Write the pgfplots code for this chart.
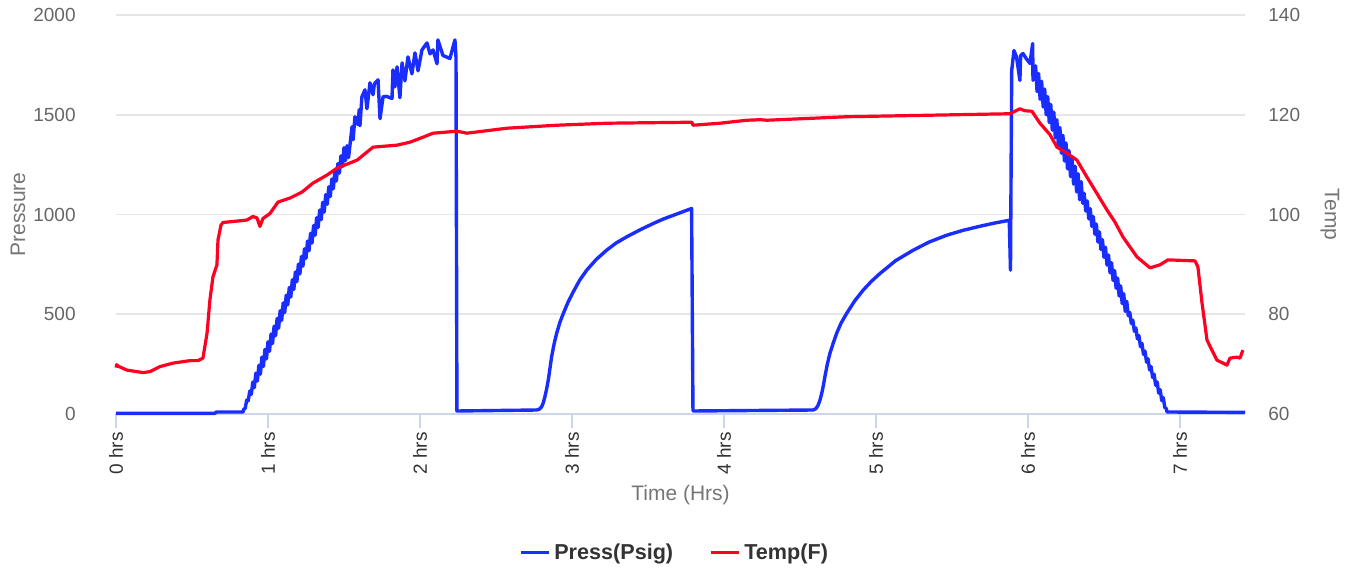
\documentclass[border=0pt]{standalone}
\usepackage{pgfplots}
\pgfplotsset{compat=1.18}
\usepackage{fontspec}
\setmainfont{Liberation Sans}
\definecolor{pblue}{RGB}{25,45,255}
\definecolor{tred}{RGB}{255,0,34}
\definecolor{gridc}{RGB}{230,230,230}
\definecolor{axc}{RGB}{204,214,235}
\definecolor{lblc}{RGB}{102,102,102}
\definecolor{ttlc}{RGB}{117,117,117}
\definecolor{darkc}{RGB}{51,51,51}

\pgfplotstableread{
t P
0 3
0.65 3
0.66 10
0.836 10
0.84 24
0.85 28
0.86 70
0.87 66
0.88 115
0.89 98
0.90 160
0.91 132
0.92 205
0.93 165
0.94 244
0.95 200
0.96 285
0.97 238
0.98 324
0.99 276
1.00 362
1.01 314
1.02 401
1.03 353
1.04 440
1.05 392
1.06 479
1.07 430
1.08 518
1.09 469
1.10 557
1.11 508
1.12 596
1.13 547
1.14 634
1.15 586
1.16 673
1.17 624
1.18 712
1.19 663
1.20 751
1.21 702
1.22 790
1.23 741
1.24 828
1.25 780
1.26 867
1.27 818
1.28 906
1.29 857
1.30 945
1.31 896
1.32 984
1.33 935
1.34 1022
1.35 974
1.36 1061
1.37 1012
1.38 1100
1.39 1051
1.40 1139
1.41 1090
1.42 1178
1.43 1129
1.44 1217
1.45 1168
1.46 1255
1.47 1207
1.48 1294
1.49 1240
1.50 1335
1.51 1270
1.52 1345
1.53 1285
1.553 1440
1.56 1375
1.572 1490
1.592 1450
1.60 1525
1.605 1445
1.618 1590
1.638 1625
1.651 1530
1.671 1660
1.691 1600
1.70 1655
1.724 1675
1.737 1480
1.757 1590
1.78 1592
1.80 1586
1.816 1582
1.822 1725
1.835 1640
1.849 1740
1.868 1585
1.882 1760
1.901 1670
1.921 1790
1.947 1705
1.967 1810
1.987 1720
2.013 1825
2.046 1860
2.066 1805
2.086 1825
2.112 1755
2.118 1875
2.151 1797
2.197 1782
2.230 1875
2.237 1787
2.243 15
2.768 20
2.785 24
2.801 37
2.812 58
2.822 87
2.833 125
2.844 170
2.855 228
2.866 287
2.882 350
2.899 404
2.920 458
2.943 504
2.975 562
3.009 613
3.050 670
3.097 721
3.160 775
3.228 821
3.290 857
3.360 888
3.450 924
3.535 955
3.600 977
3.667 996
3.730 1014
3.787 1030
3.796 15
4.587 20
4.605 27
4.620 45
4.632 70
4.643 103
4.654 143
4.664 187
4.680 250
4.697 304
4.720 358
4.741 404
4.770 455
4.807 504
4.860 567
4.916 621
4.970 665
5.026 704
5.130 769
5.245 821
5.350 862
5.465 896
5.570 920
5.684 941
5.780 957
5.877 971
5.885 721
5.893 1722
5.908 1822
5.925 1789
5.947 1672
5.952 1797
5.967 1807
5.99 1780
6.013 1757
6.031 1857
6.033 1672
6.04 1720
6.05 1745
6.06 1616
6.07 1707
6.08 1577
6.09 1668
6.10 1539
6.11 1629
6.12 1500
6.13 1591
6.14 1461
6.15 1552
6.16 1423
6.17 1513
6.18 1384
6.19 1475
6.20 1345
6.21 1436
6.22 1307
6.23 1397
6.24 1268
6.25 1359
6.26 1229
6.27 1320
6.28 1190
6.29 1281
6.30 1152
6.31 1242
6.32 1113
6.33 1204
6.34 1074
6.35 1165
6.36 1056
6.37 1106
6.38 1017
6.39 1068
6.40 978
6.41 1029
6.42 940
6.43 990
6.44 901
6.45 952
6.46 862
6.47 913
6.48 824
6.49 874
6.50 785
6.51 836
6.52 746
6.53 797
6.54 707
6.55 758
6.56 669
6.57 719
6.58 630
6.59 681
6.60 591
6.61 642
6.62 553
6.63 603
6.64 514
6.65 565
6.66 492
6.67 509
6.68 453
6.69 470
6.70 415
6.71 431
6.72 376
6.73 393
6.74 337
6.75 354
6.76 299
6.77 315
6.78 260
6.79 277
6.80 221
6.81 238
6.82 183
6.83 199
6.84 144
6.85 161
6.86 105
6.87 122
6.88 67
6.89 83
6.90 33
6.91 27
6.915 10
7.428 8
}\presstable

\pgfplotstableread{
t T
0.000 69.3
0.005 69.9
0.013 69.6
0.072 68.8
0.178 68.3
0.224 68.5
0.289 69.5
0.375 70.2
0.487 70.7
0.539 70.7
0.572 71.2
0.599 76.2
0.618 82.9
0.638 87.5
0.664 89.9
0.671 94.9
0.691 97.9
0.704 98.4
0.836 98.8
0.862 98.9
0.901 99.6
0.928 99.3
0.947 97.6
0.967 99.2
1.013 100.2
1.066 102.5
1.145 103.3
1.224 104.5
1.296 106.3
1.388 107.9
1.454 109.3
1.586 110.9
1.691 113.5
1.849 113.9
1.934 114.5
2.020 115.5
2.086 116.3
2.243 116.7
2.309 116.3
2.572 117.3
2.901 117.9
3.230 118.3
3.789 118.5
3.796 117.9
3.974 118.3
4.151 118.9
4.237 119.0
4.283 118.9
4.809 119.6
5.882 120.2
5.947 121.2
5.980 120.8
6.026 120.7
6.079 118.3
6.145 116.0
6.191 113.5
6.257 112.3
6.322 110.9
6.388 107.5
6.428 105.5
6.520 100.9
6.572 98.5
6.625 95.5
6.717 91.5
6.803 89.3
6.868 89.9
6.921 90.9
7.099 90.7
7.118 89.5
7.145 82.3
7.178 74.8
7.243 70.8
7.309 69.8
7.329 71.2
7.375 71.4
7.395 71.2
7.414 72.8
}\temptable

\pgfplotsset{
  base/.style={
    scale only axis,
    width=564.5pt, height=199.5pt,
    xmin=0, xmax=7.428,
    clip=false,
    /pgf/number format/assume math mode=true,
    tick label style={font=\fontsize{9.5}{11}\selectfont},
    label style={font=\fontsize{10.5}{12}\selectfont, text=ttlc},
  }
}

\begin{document}
\begin{tikzpicture}
\begin{axis}[base, name=main,
  ymin=0, ymax=2000,
  ytick={0,500,1000,1500,2000},
  yticklabels={0,500,1000,1500,2000},
  axis x line*=bottom,
  axis y line*=left,
  y axis line style={draw=none},
  x axis line style={draw=axc, line width=0.8pt, -},
  ymajorgrids,
  major grid style={draw=gridc, line width=0.9pt},
  xtick={0,1,2,3,4,5,6,7},
  xticklabels={0 hrs,1 hrs,2 hrs,3 hrs,4 hrs,5 hrs,6 hrs,7 hrs},
  major tick length=7pt,
  tick align=outside,
  xtick style={draw=axc, line width=0.8pt},
  ytick style={draw=none},
  xticklabel style={text=darkc, yshift=-2pt, rotate=90, anchor=east, inner sep=0pt},
  yticklabel style={text=lblc, anchor=east, inner sep=0pt, xshift=-13pt},
  ylabel={Pressure},
  ylabel style={at={(axis description cs:-0.0868,0.5)}, rotate=0, anchor=center},
  xlabel={Time (Hrs)},
  xlabel style={at={(axis description cs:0.5,-0.203)}, anchor=center},
]
\addplot[pblue, line width=1.7pt, line join=round] table[x=t, y=P] {\presstable};
\end{axis}
\begin{axis}[base,
  ymin=60, ymax=140,
  ytick={60,80,100,120,140},
  yticklabels={60,80,100,120,140},
  axis x line=none,
  axis y line*=right,
  y axis line style={draw=none},
  ytick style={draw=none},
  yticklabel style={text=lblc, anchor=west, inner sep=0pt, xshift=11.5pt},
  ylabel={Temp},
  ylabel style={at={(axis description cs:1.0753,0.5)}, rotate=180, anchor=center},
  legend columns=2,
  legend style={at={(0.4956,-0.348)}, anchor=center, draw=none, fill=none,
    font=\fontsize{10.8}{13}\selectfont\bfseries, text=darkc,
    /tikz/every even column/.append style={column sep=16pt}},
  legend image code/.code={\draw[#1, line width=1.6pt] (0pt,0pt) -- (14pt,0pt);},
]
\addlegendimage{pblue}
\addlegendentry{Press(Psig)}
\addplot[tred, line width=1.6pt, line join=round] table[x=t, y=T] {\temptable};
\addlegendentry{Temp(F)}
\end{axis}
\pgfresetboundingbox
\path ([shift={(-58pt,-78pt)}]main.south west) rectangle ([shift={(54.5pt,7.5pt)}]main.north east);
\end{tikzpicture}
\end{document}
